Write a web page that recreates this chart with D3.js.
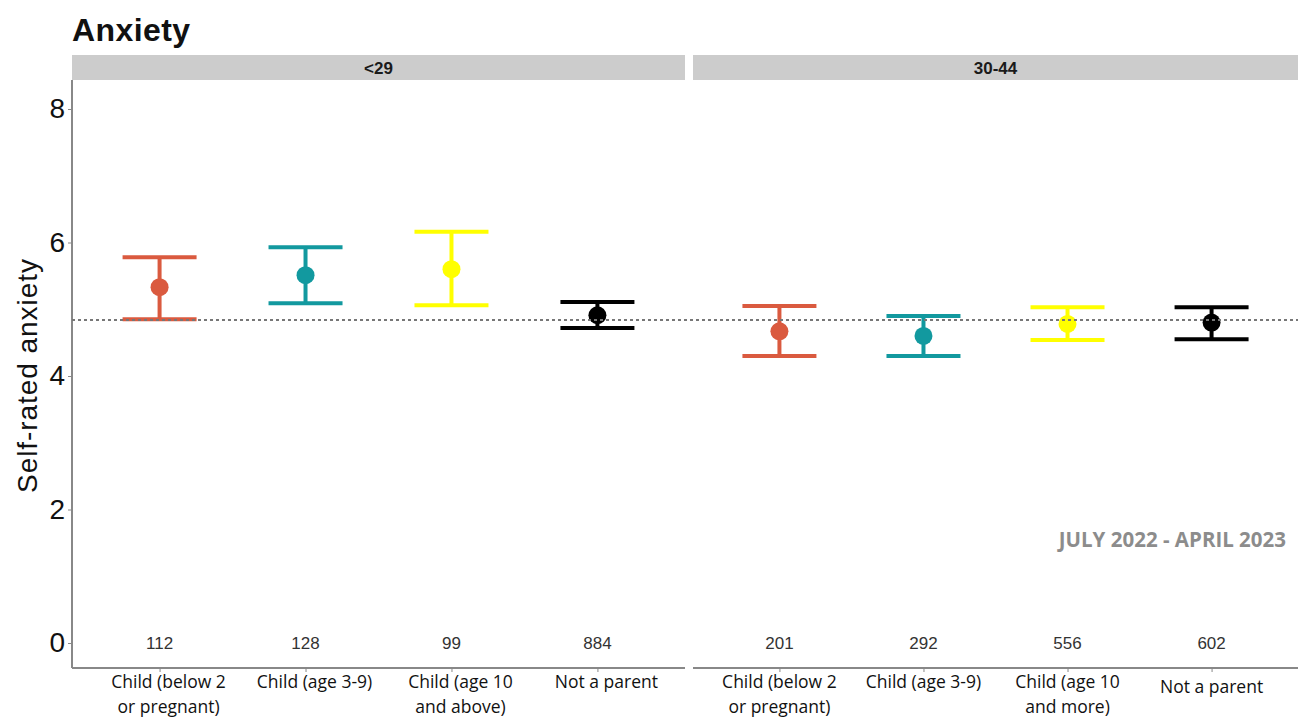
<!DOCTYPE html>
<html>
<head>
<meta charset="utf-8">
<script src="https://cdn.jsdelivr.net/npm/d3@7"></script>
<style>
  body { margin: 0; background: #fff; }
  svg { display: block; }
</style>
</head>
<body>
<div id="chart"></div>
<script>
// data
const panels = ['<29', '30-44'];
const groupKeys = ['baby', 'young', 'older', 'none'];
const labels29 = [['Child (below 2', 'or pregnant)'], ['Child (age 3-9)'], ['Child (age 10', 'and above)'], ['Not a parent']];
const labels3044 = [['Child (below 2', 'or pregnant)'], ['Child (age 3-9)'], ['Child (age 10', 'and more)'], ['Not a parent']];
const mean29 = [5.33, 5.51, 5.60, 4.91];
const lower29 = [4.85, 5.09, 5.06, 4.72];
const upper29 = [5.78, 5.93, 6.16, 5.11];
const n29 = [112, 128, 99, 884];
const mean3044 = [4.67, 4.60, 4.78, 4.80];
const lower3044 = [4.30, 4.30, 4.54, 4.55];
const upper3044 = [5.05, 4.90, 5.03, 5.03];
const n3044 = [201, 292, 556, 602];
const overallMean = 4.84;
const yTicks = [0, 2, 4, 6, 8];
const colors = ['#da5a3f', '#12999f', '#ffff00', '#000000'];

const width = 1298, height = 717;
const plotTop = 80, plotBottom = 668;
const panelX = [[72, 685], [693, 1298]];
const labelShift = [9, 0];

const svg = d3.select('#chart').append('svg')
    .attr('width', width)
    .attr('height', height);

// title
svg.append('text')
    .attr('x', 72).attr('y', 41)
    .style('font-family', 'Liberation Sans, Arial, sans-serif')
    .style('font-weight', 'bold')
    .style('font-size', '32px')
    .attr('fill', '#111')
    .attr('textLength', 118)
    .text('Anxiety');

const y = d3.scaleLinear()
    .domain([0, 8])
    .range([643, 109]);

const panelData = [
    { labels: labels29, mean: mean29, lower: lower29, upper: upper29, n: n29 },
    { labels: labels3044, mean: mean3044, lower: lower3044, upper: upper3044, n: n3044 }
];

panelData.forEach((p, pi) => {
    const [x0, x1] = panelX[pi];
    const x = d3.scalePoint()
        .domain(groupKeys)
        .range([x0, x1])
        .padding(0.6);

    // strip header
    svg.append('rect')
        .attr('x', x0).attr('y', 55)
        .attr('width', x1 - x0).attr('height', 25)
        .attr('fill', '#cccccc');
    svg.append('text')
        .attr('x', (x0 + x1) / 2).attr('y', 74)
        .attr('text-anchor', 'middle')
        .style('font-family', 'Liberation Sans, Arial, sans-serif')
        .style('font-weight', 'bold')
        .style('font-size', '17px')
        .attr('fill', '#1a1a1a')
        .text(panels[pi]);

    // x axis
    const xAxis = d3.axisBottom(x).tickSize(4).tickFormat('');
    const gx = svg.append('g')
        .attr('transform', `translate(0,${plotBottom})`)
        .call(xAxis);
    gx.select('.domain').attr('d', `M${x0},0H${x1}`).attr('stroke', '#888').attr('stroke-width', 2);
    gx.selectAll('.tick line').attr('stroke', '#888');

    // category labels (two lines)
    groupKeys.forEach((k, i) => {
        const lines = p.labels[i];
        const t = svg.append('text')
            .attr('text-anchor', 'middle')
            .style('font-family', 'Open Sans, sans-serif')
            .style('font-size', '17.5px')
            .attr('fill', '#111');
        const oneLineOffset = (pi === 1 && i === 3) ? 5 : 0;
        lines.forEach((ln, li) => {
            t.append('tspan')
                .attr('x', x(k) + labelShift[pi])
                .attr('y', 688 + oneLineOffset + li * 25)
                .text(ln);
        });
    });

    // n labels
    svg.append('g').selectAll('text')
        .data(groupKeys)
        .join('text')
        .attr('x', d => x(d))
        .attr('y', 649)
        .attr('text-anchor', 'middle')
        .style('font-family', 'Liberation Sans, Arial, sans-serif')
        .style('font-size', '17px')
        .attr('fill', '#333')
        .text((d, i) => p.n[i]);

    // error bars
    const bars = svg.append('g').selectAll('g')
        .data(groupKeys)
        .join('g')
        .attr('stroke', (d, i) => colors[i])
        .attr('stroke-width', 4);
    const capHalf = 37;
    bars.append('line')
        .attr('x1', d => x(d)).attr('x2', d => x(d))
        .attr('y1', (d, i) => y(p.lower[i])).attr('y2', (d, i) => y(p.upper[i]));
    bars.append('line')
        .attr('x1', d => x(d) - capHalf).attr('x2', d => x(d) + capHalf)
        .attr('y1', (d, i) => y(p.upper[i])).attr('y2', (d, i) => y(p.upper[i]));
    bars.append('line')
        .attr('x1', d => x(d) - capHalf).attr('x2', d => x(d) + capHalf)
        .attr('y1', (d, i) => y(p.lower[i])).attr('y2', (d, i) => y(p.lower[i]));

    svg.append('g').selectAll('circle')
        .data(groupKeys)
        .join('circle')
        .attr('cx', d => x(d))
        .attr('cy', (d, i) => y(p.mean[i]))
        .attr('r', 9)
        .attr('fill', (d, i) => colors[i]);
});

// y axis
const yAxis = d3.axisLeft(y).tickValues(yTicks).tickSize(4).tickPadding(3);
const gy = svg.append('g')
    .attr('transform', 'translate(72,0)')
    .call(yAxis);
gy.select('.domain').attr('d', `M0,${plotTop}V${plotBottom}`).attr('stroke', '#888').attr('stroke-width', 2);
gy.selectAll('.tick line').attr('stroke', '#888');
gy.selectAll('.tick text')
    .style('font-family', 'Liberation Sans, Arial, sans-serif')
    .style('font-size', '28px')
    .attr('fill', '#111');

svg.append('text')
    .attr('transform', 'translate(37,376) rotate(-90)')
    .attr('text-anchor', 'middle')
    .style('font-family', 'Liberation Sans, Arial, sans-serif')
    .style('font-size', '28px')
    .attr('fill', '#111')
    .attr('textLength', 234)
    .text('Self-rated anxiety');

// overall mean reference
svg.append('line')
    .attr('x1', 72).attr('x2', 1298)
    .attr('y1', y(overallMean)).attr('y2', y(overallMean))
    .attr('stroke', '#777')
    .attr('stroke-width', 2)
    .attr('stroke-dasharray', '3,3');

// period note
svg.append('text')
    .attr('x', 1286).attr('y', 547)
    .attr('text-anchor', 'end')
    .style('font-family', 'Open Sans, sans-serif')
    .style('font-weight', 'bold')
    .style('font-size', '20.5px')
    .attr('fill', '#8c8c8c')
    .text('JULY 2022 - APRIL 2023');
</script>
</body>
</html>
